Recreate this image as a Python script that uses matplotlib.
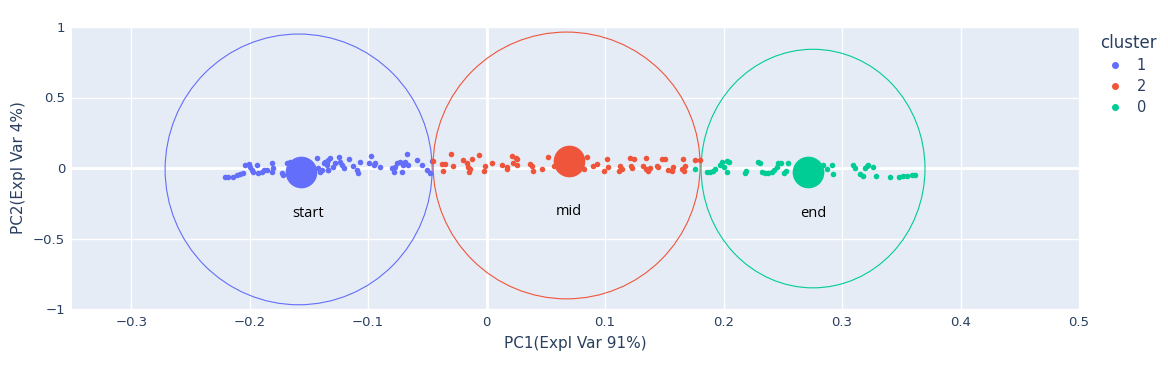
import matplotlib.pyplot as plt
from matplotlib.patches import Ellipse
from matplotlib.lines import Line2D
import numpy as np

plt.rcParams['font.family'] = ['DejaVu Sans']

# cluster 1 ("start") points
x1 = [-0.2205, -0.218, -0.2137, -0.2108, -0.208, -0.2054, -0.2038, -0.201, -0.1996, -0.198,
      -0.1968, -0.194, -0.1926, -0.1897, -0.1883, -0.1855, -0.1813, -0.1813, -0.18, -0.1728,
      -0.1715, -0.1686, -0.1672, -0.1658, -0.1433, -0.142, -0.1405, -0.1363, -0.1349, -0.1335,
      -0.139, -0.1377, -0.1349, -0.1335, -0.132, -0.1335, -0.1293, -0.1278, -0.125, -0.1236,
      -0.1222, -0.1208, -0.1166, -0.1124, -0.1096, -0.1082, -0.1068, -0.0997, -0.0977, -0.0955,
      -0.0941, -0.0899, -0.08, -0.0786, -0.0772, -0.0758, -0.073, -0.0716, -0.0702, -0.0688,
      -0.0673, -0.066, -0.0589, -0.0547, -0.0505, -0.0477, -0.0462,
      -0.162, -0.155, -0.150, -0.158, -0.147]
y1 = [-0.062, -0.067, -0.062, -0.05, -0.043, -0.033, 0.021, 0.026, 0.01, -0.014,
      -0.026, 0.021, -0.038, -0.026, -0.014, -0.014, 0.038, -0.026, -0.002, -0.038,
      -0.05, 0.033, 0.01, 0.045, 0.069, -0.002, -0.026, 0.045, 0.021, -0.014,
      -0.014, 0.033, 0.045, 0.057, 0.069, -0.014, 0.01, 0.033, 0.081, 0.045,
      0.021, -0.002, 0.062, 0.014, -0.014, -0.033, 0.045, 0.038, 0.088, 0.021,
      0.033, 0.005, -0.002, -0.026, 0.01, 0.033, 0.045, -0.026, 0.021, 0.045,
      0.098, 0.021, 0.057, 0.021, -0.014, -0.033, 0.052,
      0.02, -0.05, 0.03, -0.04, 0.0]

# cluster 2 ("mid") points
x2 = [-0.0449, -0.0378, -0.035, -0.037, -0.0302, -0.028, -0.0196, -0.0162, -0.0154, -0.0139,
      -0.0145, -0.012, -0.0061, -0.0013, -0.0019, 0.0044, 0.0133, 0.017, 0.0176, 0.0212,
      0.0226, 0.0249, 0.026, 0.026, 0.0367, 0.0381, 0.0395, 0.0471, 0.0522, 0.057,
      0.0846, 0.0823, 0.0896, 0.093, 0.1019, 0.1028, 0.0994, 0.1127, 0.1141, 0.1121,
      0.1211, 0.1245, 0.1219, 0.1225, 0.1323, 0.1346, 0.1346, 0.1366, 0.138, 0.1436,
      0.145, 0.1478, 0.1506, 0.1529, 0.1563, 0.1577, 0.1647, 0.1656, 0.1675, 0.1669,
      0.176, 0.18, 0.065, 0.075, 0.07]
y2 = [0.052, 0.029, 0.029, -0.019, 0.1, 0.017, 0.057, 0.033, 0.01, -0.01,
      -0.026, 0.062, 0.09, 0.014, -0.019, 0.038, 0.021, 0.01, -0.01, 0.088,
      0.033, 0.069, 0.062, 0.021, 0.029, 0.014, -0.019, -0.01, 0.081, 0.017,
      0.076, -0.01, 0.014, 0.029, 0.064, 0.01, -0.019, 0.014, -0.01, -0.021,
      0.069, 0.062, 0.014, -0.002, 0.017, 0.069, -0.01, -0.019, -0.002, 0.014,
      0.01, 0.064, 0.064, -0.014, -0.019, 0.01, -0.01, 0.064, 0.014, -0.019,
      0.057, 0.057, 0.06, 0.03, 0.08]

# cluster 0 ("end") points
x0 = [0.176, 0.1858, 0.1886, 0.1914, 0.1928, 0.197, 0.1985, 0.2007, 0.2027, 0.2027,
      0.2046, 0.2181, 0.2187, 0.2289, 0.2308, 0.2322, 0.235, 0.2378, 0.2407, 0.2429,
      0.2449, 0.2463, 0.2485, 0.2513, 0.2525, 0.2542, 0.2842, 0.2871, 0.2913, 0.2927,
      0.3095, 0.311, 0.3152, 0.318, 0.3194, 0.3208, 0.3222, 0.3264, 0.3287, 0.3405,
      0.3484, 0.3517, 0.3546, 0.3588, 0.3616, 0.265, 0.275, 0.28]
y0 = [-0.01, -0.031, -0.026, -0.019, -0.01, 0.021, 0.045, 0.01, -0.026, 0.052,
      0.045, -0.033, -0.019, 0.045, 0.033, -0.026, -0.033, -0.038, -0.026, -0.014,
      0.01, 0.033, 0.033, -0.033, -0.019, 0.033, 0.021, -0.01, 0.021, -0.045,
      0.021, 0.002, -0.045, -0.055, -0.002, 0.014, 0.021, 0.005, -0.057, -0.067,
      -0.062, -0.057, -0.057, -0.05, -0.05, -0.02, -0.04, 0.0]

# centroids, circle extents and labels
centroids = {'1': (-0.1565, -0.029), '2': (0.0696, 0.05), '0': (0.271, -0.029)}
circles = {'1': (-0.1587, -0.01, 0.1127, 0.96),
           '2': (0.0675, 0.018, 0.1127, 0.946),
           '0': (0.2755, -0.004, 0.0945, 0.846)}
labels = {'1': ('start', -0.151, -0.32), '2': ('mid', 0.0696, -0.31), '0': ('end', 0.2755, -0.32)}

colors = {'1': '#636efa', '2': '#EF553B', '0': '#00cc96'}
points = {'1': (x1, y1), '2': (x2, y2), '0': (x0, y0)}
text_col = '#2a3f5f'

fig = plt.figure(figsize=(11.68, 3.77), dpi=100)
ax = fig.add_axes([72 / 1168, 68 / 377, 1007 / 1168, 282 / 377])
ax.set_facecolor('#E5ECF6')

for c in ['1', '2', '0']:
    px, py = points[c]
    ax.scatter(px, py, s=16, color=colors[c], linewidths=0, zorder=3)
    cx, cy = centroids[c]
    ax.scatter([cx], [cy], s=520, color=colors[c], linewidths=0, zorder=4)
    ex, ey, rx, ry = circles[c]
    ax.add_patch(Ellipse((ex, ey), 2 * rx, 2 * ry, fill=False, edgecolor=colors[c], lw=0.8, zorder=2))
    t, tx, ty = labels[c]
    ax.text(tx, ty, t, ha='center', va='center', fontsize=10.5, color='black', zorder=5,
            family=['Open Sans', 'DejaVu Sans'])

ax.set_xlim(-0.35, 0.5)
ax.set_ylim(-1, 1)
ax.set_xticks(np.arange(-0.3, 0.51, 0.1))
ax.set_xticklabels(['−0.3', '−0.2', '−0.1', '0', '0.1', '0.2', '0.3', '0.4', '0.5'])
ax.set_yticks([-1, -0.5, 0, 0.5, 1])
ax.set_yticklabels(['−1', '−0.5', '0', '0.5', '1'])
ax.grid(True, color='white', lw=1, zorder=0)
ax.set_axisbelow(True)
ax.axhline(0, color='white', lw=2, zorder=1)
ax.axvline(0, color='white', lw=2, zorder=1)
for s in ax.spines.values():
    s.set_visible(False)
ax.tick_params(length=0, labelsize=9.5, labelcolor=text_col, pad=5)
ax.set_xlabel('PC1(Expl Var 91%)', fontsize=11, color=text_col, labelpad=5)
ax.set_ylabel('PC2(Expl Var 4%)', fontsize=11, color=text_col, labelpad=5)

handles = [Line2D([], [], marker='o', ls='', color=colors[c], markersize=4) for c in ['1', '2', '0']]
leg = ax.legend(handles, ['1', '2', '0'], title='cluster', loc='upper left',
                bbox_to_anchor=(1.008, 1.02), frameon=False, fontsize=10.5,
                title_fontsize=12, handletextpad=0.5, labelspacing=0.4)
leg.get_title().set_color(text_col)
leg._legend_box.align = 'left'
for t in leg.get_texts():
    t.set_color(text_col)

fig.savefig('out.png', dpi=100)
